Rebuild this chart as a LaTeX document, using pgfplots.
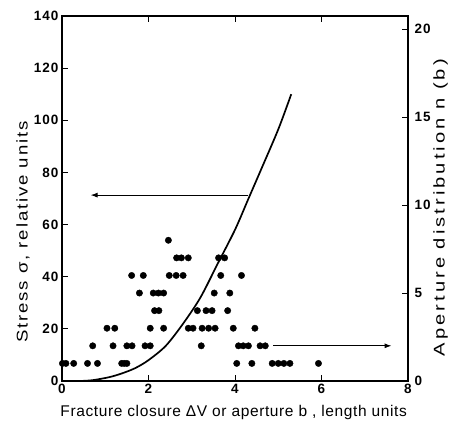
\documentclass[border=0pt]{standalone}
\usepackage{pgfplots}
\pgfplotsset{compat=1.18}
\usepackage{fontspec}
\setmainfont{Liberation Sans}
\newfontfamily\lsB[LetterSpace=4]{Liberation Sans}
\newfontfamily\lsL[LetterSpace=10]{Liberation Sans}
\newfontfamily\lsR[LetterSpace=15]{Liberation Sans}
\newfontfamily\lsT[LetterSpace=8]{Liberation Sans}
\usetikzlibrary{arrows.meta}
\begin{document}
\begin{tikzpicture}[x=1pt,y=1pt]
\path[use as bounding box] (-62,-47) rectangle (390,381);
\begin{axis}[
  at={(0,0)}, anchor=origin,
  width=346pt, height=365pt, scale only axis,
  xmin=0, xmax=8, ymin=0, ymax=140,
  xtick={0,2,4,6,8}, ytick={0,20,...,140},
  xtick pos=both, ytick pos=left,
  tick align=inside, major tick length=6pt,
  axis line style={line width=1.3pt},
  tick style={line width=1pt, black},
  tick label style={font=\fontsize{13.5}{15}\lsT\bfseries},
  /pgf/number format/assume math mode=true,
  xlabel={Fracture closure ΔV or aperture b , length units},
  ylabel={\scalebox{1.2}[1]{Stress σ, relative units}},
  xlabel style={font=\fontsize{15.5}{18}\lsB, at={(axis description cs:0.496,-0.085)}, anchor=center},
  ylabel style={font=\fontsize{15.5}{18}\lsL, at={(axis description cs:-0.113,0.408)}, anchor=center},
  clip=false,
]
\addplot[black, line width=1.7pt, smooth] coordinates {
(0.4,0)(0.7,0.3)(1.1,1.5)(1.4,3)(1.7,5)(2.0,8)(2.4,13.5)(2.8,22)(3.2,32)(3.6,45)(4.0,58)(4.3,69.5)(4.6,81)(5.0,96.5)(5.3,110)};
\addplot[black, line width=1pt, -{Latex[length=7pt,width=5pt]}] coordinates {(4.31,71.3)(0.66,71.3)};
\end{axis}
\begin{axis}[
  at={(0,0)}, anchor=origin,
  width=346pt, height=365pt, scale only axis,
  xmin=0, xmax=8, ymin=0, ymax=20.75,
  axis x line=none, axis y line*=right,
  ytick={0,5,...,20},
  tick align=inside, major tick length=6pt,
  axis line style={line width=1.3pt},
  tick style={line width=1pt, black},
  tick label style={font=\fontsize{13.5}{15}\lsT\bfseries},
  yticklabel style={xshift=3pt},
  /pgf/number format/assume math mode=true,
  ylabel={\scalebox{1.3}[1]{Aperture distribution n (b)}},
  ylabel style={font=\fontsize{15.5}{18}\lsR, at={(axis description cs:1.094,0.475)}, anchor=center, rotate=0},
  clip=false,
]
\addplot[only marks, mark=*, mark size=3.2pt, black] coordinates {
(0.01,1)(0.09,1)(0.27,1)(0.59,1)(0.82,1)(1.38,1)(1.44,1)(1.50,1)(4.04,1)(4.39,1)(4.86,1)(5.0,1)(5.13,1)(5.27,1)(5.93,1)
(0.71,2)(1.18,2)(1.50,2)(1.62,2)(1.92,2)(2.04,2)(3.22,2)(4.08,2)(4.19,2)(4.31,2)(4.58,2)(4.70,2)
(1.04,3)(1.22,3)(2.04,3)(2.35,3)(2.92,3)(3.03,3)(3.24,3)(3.39,3)(3.54,3)(3.96,3)(4.46,3)
(2.14,4)(2.24,4)(3.13,4)(3.33,4)(3.47,4)(3.83,4)
(1.79,5)(2.11,5)(2.23,5)(2.35,5)(3.52,5)(3.88,5)
(1.61,6)(1.88,6)(2.48,6)(2.64,6)(2.80,6)(3.67,6)(4.15,6)
(2.65,7)(2.76,7)(2.92,7)(3.62,7)(3.76,7)
(2.46,8)};
\addplot[black, line width=1pt, -{Latex[length=7pt,width=5pt]}] coordinates {(4.88,2)(7.62,2)};
\end{axis}
\end{tikzpicture}
\end{document}
